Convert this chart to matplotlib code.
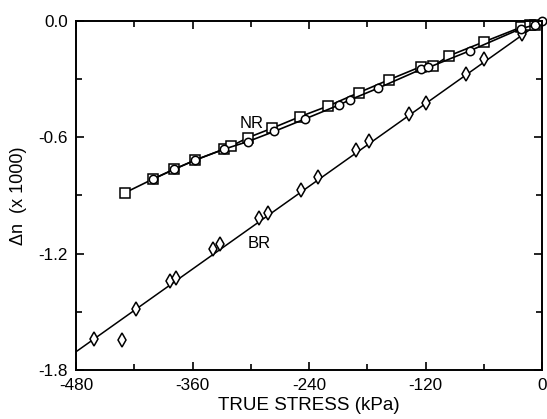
import matplotlib
matplotlib.use("Agg")
import matplotlib.pyplot as plt
from matplotlib.ticker import MultipleLocator

plt.rcParams['font.family'] = ['Liberation Sans', 'DejaVu Sans']

# NR series (squares)
nr_sq_x = [-430, -401, -379, -357, -328, -320, -303, -278, -249, -220, -189, -158,
           -125, -112, -96, -60, -22, -12, -7]
nr_sq_y = [-0.887, -0.816, -0.765, -0.717, -0.662, -0.645, -0.602, -0.553, -0.493,
           -0.438, -0.370, -0.304, -0.236, -0.232, -0.180, -0.108, -0.033, -0.021,
           -0.021]
# NR series (circles)
nr_ci_x = [-401, -379, -357, -328, -303, -276, -244, -209, -198, -169, -125, -117,
           -74, -22, -7, 0]
nr_ci_y = [-0.816, -0.765, -0.717, -0.662, -0.622, -0.570, -0.505, -0.433, -0.407,
           -0.347, -0.250, -0.240, -0.153, -0.040, -0.020, 0.0]
# BR series (diamonds)
br_x = [-462, -433, -418, -383, -377, -339, -332, -292, -282, -248, -231, -192,
        -178, -137, -120, -78, -60, -21]
br_y = [-1.642, -1.645, -1.485, -1.341, -1.324, -1.177, -1.152, -1.014, -0.992,
        -0.872, -0.803, -0.665, -0.619, -0.481, -0.421, -0.273, -0.198, -0.069]
# BR fitted line
br_fit_x = [-480, 0]
br_fit_y = [-1.706, 0.0]

x_ticks = [-480, -360, -240, -120, 0]
y_ticks = [-1.8, -1.2, -0.6, 0.0]

fig = plt.figure(figsize=(5.47, 4.19), dpi=100)
ax = fig.add_axes([0.139, 0.117, 0.852, 0.833])

ax.plot(br_fit_x, br_fit_y, color='black', lw=1.1)
ax.plot(br_x, br_y, linestyle='none', marker='d', markersize=7.5,
        markerfacecolor='white', markeredgecolor='black', markeredgewidth=1.1,
        clip_on=False)

ax.plot(nr_sq_x + [0], nr_sq_y + [0.0], color='black', lw=1.2)
ax.plot(nr_sq_x, nr_sq_y, linestyle='none', marker='s', markersize=6.5,
        markerfacecolor='white', markeredgecolor='black', markeredgewidth=1.1,
        clip_on=False)
ax.plot(nr_ci_x, nr_ci_y, color='black', lw=1.2, marker='o', markersize=6,
        markerfacecolor='white', markeredgecolor='black', markeredgewidth=1.1,
        clip_on=False)

ax.text(-299, -0.528, 'NR', ha='center', va='center', fontsize=12)
ax.text(-291, -1.146, 'BR', ha='center', va='center', fontsize=12)

ax.set_xlim(-480, 0)
ax.set_ylim(-1.8, 0.0)
ax.set_xticks(x_ticks)
ax.set_xticklabels(['-480', '-360', '-240', '-120', '0'])
ax.set_yticks(y_ticks)
ax.set_yticklabels(['-1.8', '-1.2', '-0.6', '0.0'])
ax.xaxis.set_minor_locator(MultipleLocator(60))
ax.yaxis.set_minor_locator(MultipleLocator(0.3))
ax.tick_params(which='both', direction='in', top=True, right=True,
               labelsize=12.3, width=1.2)
ax.tick_params(which='major', length=6, pad=6)
ax.tick_params(which='minor', length=4)
for s in ax.spines.values():
    s.set_linewidth(1.4)

ax.set_xlabel('TRUE STRESS (kPa)', fontsize=13.5, labelpad=3)
ax.set_ylabel('Δn  (x 1000)', fontsize=13, labelpad=8)

fig.savefig('out.png', dpi=100)
